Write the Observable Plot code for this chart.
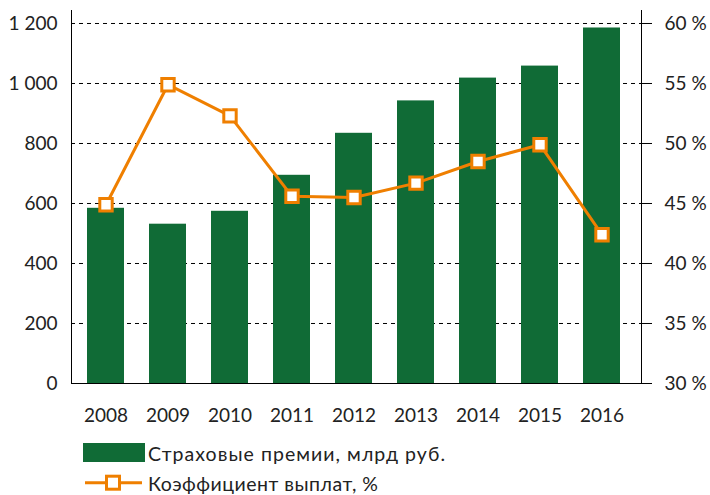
<!DOCTYPE html>
<html>
<head>
<meta charset="utf-8">
<script src="https://cdn.jsdelivr.net/npm/d3@7"></script>
<script src="https://cdn.jsdelivr.net/npm/@observablehq/plot@0.6"></script>
<style>
  html, body { margin: 0; padding: 0; background: #fff; }
  #wrap { position: relative; width: 710px; height: 495px; font-family: Lato, "Noto Sans", sans-serif; }
  #legend { position: absolute; left: 0; top: 432px; }
</style>
</head>
<body>
<div id="wrap">
  <div id="chart"></div>
  <svg id="legend" width="710" height="63"></svg>
</div>
<script>
const years = ["2008","2009","2010","2011","2012","2013","2014","2015","2016"];
const premiums = [584, 531, 574, 694, 834, 942, 1018, 1058, 1185];
const payoutRatio = [44.9, 54.9, 52.3, 45.6, 45.5, 46.7, 48.5, 49.9, 42.4];
const leftTicks = [0, 200, 400, 600, 800, 1000, 1200];
const leftTickLabels = ["0", "200", "400", "600", "800", "1 000", "1 200"];
const rightTickLabels = ["30 %", "35 %", "40 %", "45 %", "50 %", "55 %", "60 %"];
const seriesNames = ["Страховые премии, млрд руб.", "Коэффициент выплат, %"];

const green = "#106B36";
const orange = "#EF7F00";
const textColor = "#222";

// map percentage (30..60) onto the left scale (0..1200)
const pctToY = p => (p - 30) / 30 * 1200;

const data = years.map((y, i) => ({year: y, premium: premiums[i], ratio: payoutRatio[i], ratioY: pctToY(payoutRatio[i])}));

const chart = Plot.plot({
  width: 710,
  height: 432,
  marginTop: 10,
  marginBottom: 49,
  marginLeft: 71,
  marginRight: 69,
  style: {fontFamily: "Lato, 'Noto Sans', sans-serif", fontSize: "19px", color: textColor, background: "#fff"},
  x: {domain: years, paddingInner: 0.41, paddingOuter: 0.26, align: 0.43, label: null},
  y: {domain: [0, 1243.3], label: null},
  marks: [
    Plot.gridY(leftTicks, {stroke: "#000", strokeOpacity: 1, strokeDasharray: "4,4", strokeWidth: 1}),
    Plot.barY(data, {x: "year", y: "premium", fill: green}),
    Plot.frame({anchor: "left", stroke: "#000", strokeWidth: 1}),
    Plot.frame({anchor: "right", stroke: "#000", strokeWidth: 1}),
    Plot.ruleY([0], {stroke: "#000", strokeWidth: 1}),
    Plot.line(data, {x: "year", y: "ratioY", stroke: orange, strokeWidth: 3}),
    Plot.dot(data, {x: "year", y: "ratioY", symbol: "square", r: 7, fill: "#fff", stroke: orange, strokeWidth: 3}),
    Plot.axisY(leftTicks, {anchor: "left", tickSize: 0, tickPadding: 14, tickFormat: d => leftTickLabels[leftTicks.indexOf(d)], fill: textColor}),
    Plot.axisY(leftTicks, {anchor: "right", tickSize: 10, tickPadding: 13, stroke: "#000", tickFormat: d => rightTickLabels[leftTicks.indexOf(d)], fill: textColor}),
    Plot.axisX({anchor: "bottom", tickSize: 0, tickPadding: 25, fill: textColor})
  ]
});
document.getElementById("chart").appendChild(chart);

// legend
const lg = d3.select("#legend");
lg.append("rect").attr("x", 83).attr("y", 11).attr("width", 62).attr("height", 19).attr("fill", green);
lg.append("text").attr("x", 148).attr("y", 28.5).attr("font-size", 19.5).attr("fill", textColor)
  .attr("textLength", 297).attr("lengthAdjust", "spacing")
  .attr("font-family", "Lato, 'Noto Sans', sans-serif").text(seriesNames[0]);
lg.append("line").attr("x1", 85).attr("x2", 142).attr("y1", 50.7).attr("y2", 50.7).attr("stroke", orange).attr("stroke-width", 3);
lg.append("rect").attr("x", 106.5).attr("y", 44.2).attr("width", 13).attr("height", 13).attr("fill", "#fff").attr("stroke", orange).attr("stroke-width", 3);
lg.append("text").attr("x", 148).attr("y", 58.5).attr("font-size", 19.5).attr("fill", textColor)
  .attr("textLength", 230).attr("lengthAdjust", "spacing")
  .attr("font-family", "Lato, 'Noto Sans', sans-serif").text(seriesNames[1]);
</script>
</body>
</html>
